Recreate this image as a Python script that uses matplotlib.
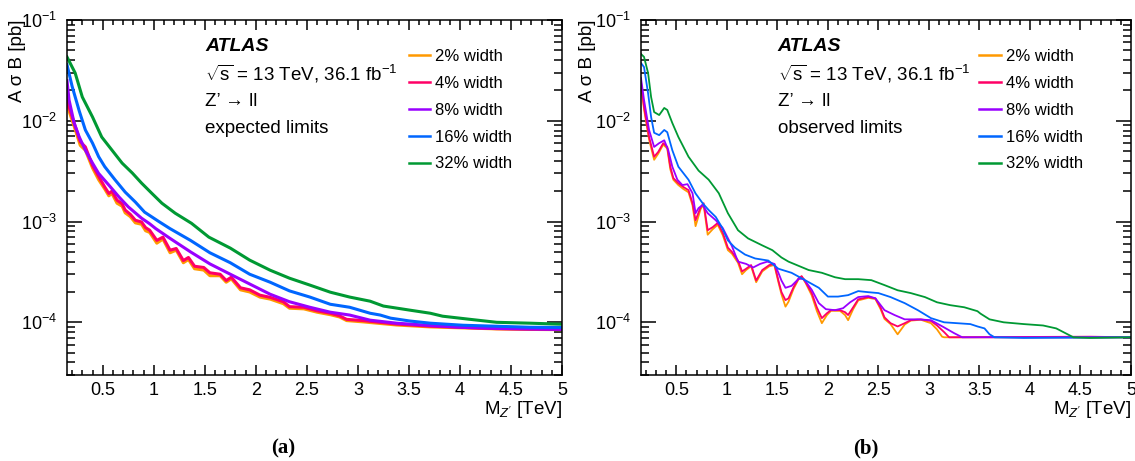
import numpy as np
import matplotlib
matplotlib.use('Agg')
import matplotlib.pyplot as plt
from matplotlib.ticker import MultipleLocator, LogLocator, NullFormatter, FuncFormatter

plt.rcParams['font.family'] = ['Liberation Sans', 'DejaVu Sans']
plt.rcParams['mathtext.fontset'] = 'custom'
plt.rcParams['mathtext.rm'] = 'Liberation Sans'
plt.rcParams['mathtext.it'] = 'Liberation Sans:italic'
plt.rcParams['mathtext.bf'] = 'Liberation Sans:bold'

# signal widths and colours
widths = ['2% width', '4% width', '8% width', '16% width', '32% width']
colors = ['#ff9900', '#ff0066', '#9900ff', '#0066ff', '#009933']

# ---- expected limits, A sigma B [pb] vs M_Z' [TeV] ----
exp_m_2 = [0.15, 0.17, 0.22, 0.28, 0.33, 0.40, 0.46, 0.52, 0.56, 0.59, 0.64, 0.69, 0.72, 0.77,
           0.82, 0.88, 0.92, 0.96, 1.03, 1.09, 1.16, 1.22, 1.29, 1.34, 1.40, 1.49, 1.55, 1.65,
           1.71, 1.76, 1.85, 1.94, 2.04, 2.14, 2.27, 2.33, 2.47, 2.60, 2.73, 2.82, 2.89, 3.05,
           3.38, 3.71, 4.03, 4.36, 4.69, 5.00]
exp_v_2 = [0.019, 0.0125, 0.0088, 0.0057, 0.0051, 0.0034, 0.0026, 0.0021, 0.0018, 0.0019,
           0.00152, 0.00142, 0.00122, 0.00112, 0.00097, 0.00094, 0.00081, 0.00078, 0.00061,
           0.00067, 0.00049, 0.00052, 0.00039, 0.00042, 0.00034, 0.00033, 0.00029, 0.00029,
           0.00025, 0.00027, 0.00021, 0.00020, 0.000178, 0.000170, 0.000153, 0.000138,
           0.000136, 0.000126, 0.000119, 0.000113, 0.000104, 0.000101, 0.000094, 0.000090,
           0.000088, 0.000086, 0.000085, 0.0000845]
exp_m_4 = exp_m_2
exp_v_4 = [0.021, 0.0137, 0.0095, 0.0062, 0.0055, 0.0036, 0.0028, 0.0022, 0.0019, 0.0020,
           0.00163, 0.00150, 0.00130, 0.00118, 0.00103, 0.00099, 0.00087, 0.00082, 0.00065,
           0.00070, 0.00052, 0.00054, 0.00041, 0.00044, 0.00036, 0.00035, 0.00031, 0.00030,
           0.00026, 0.00028, 0.00022, 0.00021, 0.000186, 0.000177, 0.000160, 0.000143,
           0.000141, 0.000130, 0.000123, 0.000116, 0.000107, 0.000104, 0.000096, 0.0000915,
           0.000089, 0.0000865, 0.0000855, 0.000085]
exp_m_8 = [0.15, 0.17, 0.22, 0.27, 0.33, 0.40, 0.46, 0.56, 0.66, 0.75, 0.88, 0.96, 1.02, 1.16,
           1.36, 1.55, 1.75, 1.94, 2.14, 2.33, 2.53, 2.73, 2.92, 3.12, 3.38, 3.71, 4.03, 4.36,
           5.00]
exp_v_8 = [0.025, 0.0161, 0.0095, 0.0069, 0.0051, 0.0038, 0.0030, 0.0023, 0.00175, 0.00140,
           0.00108, 0.00095, 0.00085, 0.00068, 0.00050, 0.00038, 0.00030, 0.00024, 0.000190,
           0.000160, 0.000141, 0.000126, 0.000118, 0.000105, 0.000098, 0.000093, 0.000089,
           0.000087, 0.000085]
exp_m_16 = [0.15, 0.20, 0.27, 0.33, 0.40, 0.46, 0.52, 0.62, 0.72, 0.82, 0.91, 1.05, 1.16, 1.36,
            1.55, 1.75, 1.94, 2.14, 2.33, 2.53, 2.73, 2.92, 3.12, 3.22, 3.32, 3.51, 3.71, 4.03,
            4.36, 4.69, 5.00]
exp_v_16 = [0.036, 0.022, 0.0125, 0.0081, 0.0060, 0.0044, 0.0035, 0.0026, 0.00196, 0.00156,
            0.00124, 0.00100, 0.00085, 0.00065, 0.00049, 0.00039, 0.000300, 0.000250, 0.000205,
            0.000178, 0.000151, 0.000141, 0.000123, 0.000118, 0.000110, 0.000103, 0.000098,
            0.0000935, 0.0000914, 0.0000893, 0.0000890]
exp_m_32 = [0.15, 0.23, 0.30, 0.40, 0.49, 0.59, 0.69, 0.79, 0.88, 0.98, 1.08, 1.21, 1.37, 1.54,
            1.75, 1.94, 2.14, 2.33, 2.53, 2.73, 2.92, 3.12, 3.25, 3.51, 3.71, 3.83, 4.10, 4.36,
            4.69, 5.00]
exp_v_32 = [0.043, 0.0298, 0.0172, 0.0109, 0.0069, 0.00512, 0.00380, 0.00303, 0.00241, 0.00191,
            0.00152, 0.00121, 0.00096, 0.00070, 0.000545, 0.000414, 0.000329, 0.000274,
            0.000234, 0.000199, 0.000178, 0.000162, 0.000145, 0.000132, 0.000123, 0.000115,
            0.000107, 0.000100, 0.000098, 0.0000957]

# ---- observed limits ----
obs_m_2 = [0.15, 0.18, 0.23, 0.28, 0.32, 0.37, 0.41, 0.44, 0.47, 0.52, 0.57, 0.62, 0.66, 0.69,
           0.74, 0.77, 0.81, 0.86, 0.91, 0.96, 1.01, 1.05, 1.11, 1.15, 1.19, 1.24, 1.29, 1.35,
           1.42, 1.47, 1.51, 1.54, 1.58, 1.61, 1.66, 1.71, 1.74, 1.78, 1.84, 1.89, 1.94, 1.99,
           2.03, 2.12, 2.17, 2.20, 2.25, 2.30, 2.40, 2.47, 2.52, 2.56, 2.62, 2.69, 2.76, 2.82,
           2.92, 3.02, 3.08, 3.13, 3.15, 4.00, 5.00]
obs_v_2 = [0.0230, 0.0130, 0.0065, 0.0041, 0.0047, 0.0058, 0.0053, 0.0033, 0.0026, 0.0023,
           0.0021, 0.00195, 0.00145, 0.00090, 0.00133, 0.00147, 0.00074, 0.00084, 0.00093,
           0.00073, 0.00052, 0.00048, 0.00039, 0.00030, 0.00033, 0.00036, 0.00025, 0.00032,
           0.00036, 0.00037, 0.00025, 0.000190, 0.000143, 0.000160, 0.000215, 0.000268,
           0.000285, 0.000245, 0.000185, 0.000130, 0.000098, 0.000118, 0.000130, 0.000130,
           0.000118, 0.000105, 0.000135, 0.000165, 0.000175, 0.000170, 0.000136, 0.000108,
           0.000096, 0.000076, 0.000095, 0.000104, 0.000106, 0.000098, 0.000085, 0.000072,
           0.000071, 0.000071, 0.000071]
obs_m_4 = [0.15, 0.18, 0.23, 0.28, 0.32, 0.37, 0.41, 0.44, 0.47, 0.52, 0.57, 0.62, 0.66, 0.69,
           0.74, 0.77, 0.81, 0.86, 0.91, 0.96, 1.01, 1.05, 1.11, 1.15, 1.19, 1.24, 1.29, 1.35,
           1.42, 1.47, 1.51, 1.54, 1.58, 1.61, 1.66, 1.71, 1.74, 1.78, 1.84, 1.89, 1.94, 1.99,
           2.03, 2.12, 2.17, 2.20, 2.25, 2.30, 2.40, 2.47, 2.52, 2.56, 2.62, 2.69, 2.76, 2.82,
           2.92, 3.02, 3.08, 3.15, 3.20, 4.60, 5.00]
obs_v_4 = [0.0242, 0.0137, 0.0069, 0.0044, 0.0049, 0.0060, 0.0055, 0.0035, 0.0027, 0.0024,
           0.0022, 0.00205, 0.00152, 0.00103, 0.00139, 0.00152, 0.00082, 0.00088, 0.00097,
           0.00077, 0.00055, 0.00050, 0.00041, 0.00032, 0.00034, 0.00037, 0.00026, 0.00033,
           0.00037, 0.00038, 0.00026, 0.000200, 0.000166, 0.000173, 0.000223, 0.000274,
           0.000287, 0.000250, 0.000195, 0.000141, 0.000110, 0.000123, 0.000132, 0.000132,
           0.000126, 0.000118, 0.000141, 0.000169, 0.000178, 0.000173, 0.000141, 0.000112,
           0.000098, 0.000091, 0.000098, 0.000105, 0.000107, 0.000103, 0.000093, 0.000080,
           0.000071, 0.000072, 0.000071]
obs_m_8 = [0.15, 0.18, 0.23, 0.28, 0.33, 0.38, 0.42, 0.46, 0.51, 0.56, 0.61, 0.66, 0.69, 0.72,
           0.76, 0.81, 0.89, 0.96, 1.05, 1.11, 1.19, 1.26, 1.33, 1.40, 1.47, 1.51, 1.54, 1.58,
           1.64, 1.71, 1.76, 1.84, 1.91, 1.98, 2.07, 2.15, 2.22, 2.30, 2.40, 2.47, 2.56, 2.66,
           2.76, 2.89, 3.02, 3.15, 3.25, 3.33, 5.00]
obs_v_8 = [0.0265, 0.0161, 0.0081, 0.0055, 0.0060, 0.0064, 0.0051, 0.0035, 0.0026, 0.0023,
           0.00235, 0.00191, 0.00121, 0.00136, 0.00146, 0.00121, 0.00103, 0.00086, 0.00057,
           0.00040, 0.00038, 0.00035, 0.00038, 0.00040, 0.00038, 0.00031, 0.00026, 0.00022,
           0.00023, 0.00027, 0.00027, 0.00021, 0.000155, 0.000135, 0.000132, 0.000138,
           0.000158, 0.000178, 0.000182, 0.000173, 0.000132, 0.000118, 0.000107, 0.000107,
           0.000105, 0.000089, 0.000078, 0.000071, 0.000071]
obs_m_16 = [0.15, 0.18, 0.22, 0.25, 0.28, 0.33, 0.38, 0.41, 0.46, 0.52, 0.62, 0.69, 0.76, 0.82,
            0.89, 0.95, 1.01, 1.08, 1.18, 1.28, 1.41, 1.51, 1.64, 1.78, 1.91, 2.00, 2.10, 2.20,
            2.30, 2.40, 2.50, 2.62, 2.76, 2.89, 3.02, 3.15, 3.28, 3.41, 3.48, 3.55, 3.60, 3.65,
            3.94, 5.00]
obs_v_16 = [0.0374, 0.0341, 0.0188, 0.0109, 0.0076, 0.0072, 0.0081, 0.0077, 0.0051, 0.0035,
            0.0026, 0.0019, 0.00152, 0.00130, 0.00111, 0.00088, 0.00065, 0.00055, 0.00047,
            0.00043, 0.00041, 0.00034, 0.00031, 0.00026, 0.00022, 0.000180, 0.000180,
            0.000186, 0.000204, 0.000199, 0.000195, 0.000178, 0.000155, 0.000132, 0.000110,
            0.000100, 0.000098, 0.000096, 0.000091, 0.000087, 0.000076, 0.000071, 0.000070,
            0.000071]
obs_m_32 = [0.15, 0.18, 0.22, 0.25, 0.28, 0.33, 0.38, 0.41, 0.46, 0.52, 0.62, 0.72, 0.82, 0.92,
            1.01, 1.11, 1.21, 1.35, 1.45, 1.54, 1.61, 1.81, 1.94, 2.07, 2.17, 2.30, 2.43, 2.56,
            2.69, 2.82, 2.96, 3.08, 3.21, 3.35, 3.48, 3.51, 3.60, 3.74, 3.94, 4.13, 4.26, 4.43,
            4.59, 5.00]
obs_v_32 = [0.046, 0.043, 0.0298, 0.0172, 0.0122, 0.0114, 0.0134, 0.0128, 0.0095, 0.0069,
            0.0044, 0.0032, 0.0026, 0.00191, 0.00121, 0.00082, 0.00068, 0.00058, 0.00052,
            0.00044, 0.00040, 0.00033, 0.00031, 0.00028, 0.000268, 0.000268, 0.000262,
            0.000234, 0.000208, 0.000195, 0.000178, 0.000158, 0.000148, 0.000141, 0.000129,
            0.000122, 0.000107, 0.000100, 0.000096, 0.000093, 0.000087, 0.000071, 0.000070,
            0.000071]

exp_curves = [(exp_m_2, exp_v_2), (exp_m_4, exp_v_4), (exp_m_8, exp_v_8),
              (exp_m_16, exp_v_16), (exp_m_32, exp_v_32)]
obs_curves = [(obs_m_2, obs_v_2), (obs_m_4, obs_v_4), (obs_m_8, obs_v_8),
              (obs_m_16, obs_v_16), (obs_m_32, obs_v_32)]


def style_axes(ax):
    ax.set_yscale('log')
    ax.set_xlim(0.15, 5)
    ax.set_ylim(3e-5, 0.1)
    ax.xaxis.set_major_locator(MultipleLocator(0.5))
    ax.xaxis.set_minor_locator(MultipleLocator(0.1))
    ax.xaxis.set_major_formatter(FuncFormatter(lambda v, p: f'{v:g}'))
    ax.yaxis.set_major_locator(LogLocator(base=10, numticks=10))
    ax.yaxis.set_minor_locator(LogLocator(base=10, subs=np.arange(2, 10), numticks=10))
    ax.yaxis.set_minor_formatter(NullFormatter())
    ax.tick_params(which='both', direction='in', top=True, right=True, width=1.1)
    ax.tick_params(axis='x', which='major', length=7.5, labelsize=13, pad=5)
    ax.tick_params(axis='x', which='minor', length=3.8)
    ax.tick_params(axis='y', which='major', length=11, labelsize=13, pad=7)
    ax.tick_params(axis='y', which='minor', length=5.5)
    for s in ax.spines.values():
        s.set_linewidth(1.1)


fig = plt.figure(figsize=(11.35, 4.61), dpi=100)
axL = fig.add_axes([67/1135, 86/461, 495/1135, 355/461])
axR = fig.add_axes([641/1135, 86/461, 490/1135, 355/461])

panels = [(axL, exp_curves, 2.2, 'expected limits', '(a)', 283/1135, 18/1135),
          (axR, obs_curves, 1.3, 'observed limits', '(b)', 866/1135, 588/1135)]

for ax, curves, lw, kind, tag, tagx, ylx in panels:
    for (m, v), c, lab in zip(curves, colors, widths):
        ax.plot(m, v, color=c, lw=lw, label=lab)
    style_axes(ax)
    ax.text(0.279, 0.925, 'ATLAS', weight='bold', style='italic', fontsize=14,
            transform=ax.transAxes, va='center')
    ax.text(0.279, 0.849, r'$\sqrt{\mathregular{s}}$ = 13 TeV, 36.1 fb$^{-1}$', fontsize=13.5,
            transform=ax.transAxes, va='center')
    ax.text(0.279, 0.770, 'Z’ → ll', fontsize=13.5, transform=ax.transAxes, va='center')
    ax.text(0.279, 0.694, kind, fontsize=13.5, transform=ax.transAxes, va='center')
    leg = ax.legend(loc='upper left', bbox_to_anchor=(0.69, 0.918), frameon=False,
                    fontsize=12, handlelength=1.3, handletextpad=0.3, labelspacing=0.71,
                    borderaxespad=0, borderpad=0)
    for h in leg.get_lines():
        h.set_linewidth(1.8)
    ax.text(1.0, -0.068, "M$_{Z'}$ [TeV]", ha='right', va='top', fontsize=13.5,
            transform=ax.transAxes)
    fig.text(ylx, 1 - 20/461, 'A σ B [pb]', rotation=90, ha='center', va='top',
             fontsize=13.5)
    fig.text(tagx, 13/461, tag, ha='center', va='center', fontsize=15,
             family='Liberation Serif', weight='bold')

fig.savefig('out.png', dpi=100)
